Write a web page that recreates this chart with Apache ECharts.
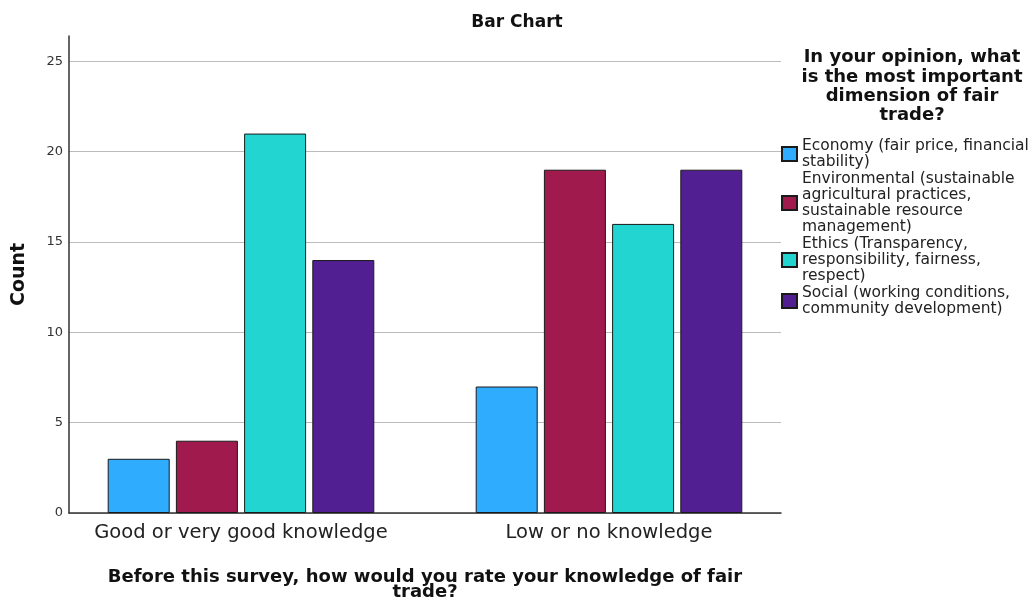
<!DOCTYPE html>
<html>
<head>
<meta charset="utf-8">
<script src="https://cdn.jsdelivr.net/npm/echarts@6/dist/echarts.min.js"></script>
<style>html,body{margin:0;padding:0;background:#fff}#c{width:1034px;height:598px}</style>
</head>
<body>
<div id="c"></div>
<script>
const categories = ['Good or very good knowledge', 'Low or no knowledge'];
const seriesNames = [
  'Economy (fair price, financial\nstability)',
  'Environmental (sustainable\nagricultural practices,\nsustainable resource\nmanagement)',
  'Ethics (Transparency,\nresponsibility, fairness,\nrespect)',
  'Social (working conditions,\ncommunity development)'
];
const economy = [3, 7];
const environmental = [4, 19];
const ethics = [21, 16];
const social = [14, 19];
const colors = ['#30acfe', '#a01a4e', '#22d5d1', '#521f93'];
const yTicks = [0, 5, 10, 15, 20, 25];

const FONT = 'DejaVu Sans';
const values = [economy, environmental, ethics, social];

const chart = echarts.init(document.getElementById('c'), null, {renderer: 'canvas'});
chart.setOption({
  animation: false,
  backgroundColor: '#fff',
  textStyle: {fontFamily: FONT},
  title: [
    {text: 'Bar Chart', left: 'center', top: 14, padding: 0,
     textStyle: {fontFamily: FONT, fontSize: 17, fontWeight: 'bold', color: '#111'}},
    {text: 'In your opinion, what\nis the most important\ndimension of fair\ntrade?', left: 912, top: 48, padding: 0,
     textAlign: 'center',
     textStyle: {fontFamily: FONT, fontSize: 18, fontWeight: 'bold', color: '#111', lineHeight: 19.3}}
  ],
  legend: {
    orient: 'vertical', left: 781, top: 138, padding: 0,
    itemWidth: 15, itemHeight: 14, itemGap: 1,
    icon: 'rect',
    textStyle: {fontFamily: FONT, fontSize: 15.5, lineHeight: 16, color: '#222'},
    data: seriesNames
  },
  grid: [
    {left: 69, right: 253, top: 36, bottom: 85, outerBoundsMode: 'none', containLabel: false},
    {left: 57, width: 736, top: 36, bottom: 85, outerBoundsMode: 'none', containLabel: false}
  ],
  xAxis: [
    {gridIndex: 0, type: 'category', data: categories,
     axisLine: {lineStyle: {color: '#333', width: 1.5}},
     axisTick: {show: false}, axisLabel: {show: false}, splitLine: {show: false},
     name: 'Before this survey, how would you rate your knowledge of fair\ntrade?',
     nameLocation: 'middle', nameGap: 57,
     nameTextStyle: {fontFamily: FONT, fontSize: 18, fontWeight: 'bold', color: '#111', lineHeight: 15}},
    {gridIndex: 1, type: 'category', data: categories,
     axisLine: {show: false}, axisTick: {show: false}, splitLine: {show: false},
     axisLabel: {fontFamily: FONT, fontSize: 19.5, color: '#222', margin: 10, interval: 0, hideOverlap: false}}
  ],
  yAxis: [
    {gridIndex: 0, type: 'value', min: yTicks[0], max: 26.4, interval: 5,
     axisLine: {show: true, lineStyle: {color: '#333', width: 1.5}},
     axisTick: {show: false},
     axisLabel: {fontFamily: FONT, fontSize: 13, color: '#333', margin: 6, showMaxLabel: false},
     splitLine: {show: true, showMaxLine: false, lineStyle: {color: '#bbb', width: 1}},
     name: 'Count', nameLocation: 'middle', nameGap: 40, nameRotate: 90,
     nameTextStyle: {fontFamily: FONT, fontSize: 19, fontWeight: 'bold', color: '#111'}},
    {gridIndex: 1, type: 'value', min: yTicks[0], max: 26.4, show: false}
  ],
  series: seriesNames.map((n, i) => ({
    name: n, type: 'bar', xAxisIndex: 1, yAxisIndex: 1,
    data: values[i], barWidth: 62, barGap: '10%',
    itemStyle: {color: colors[i], borderColor: '#1a1a1a', borderWidth: 1}
  }))
});
</script>
</body>
</html>
